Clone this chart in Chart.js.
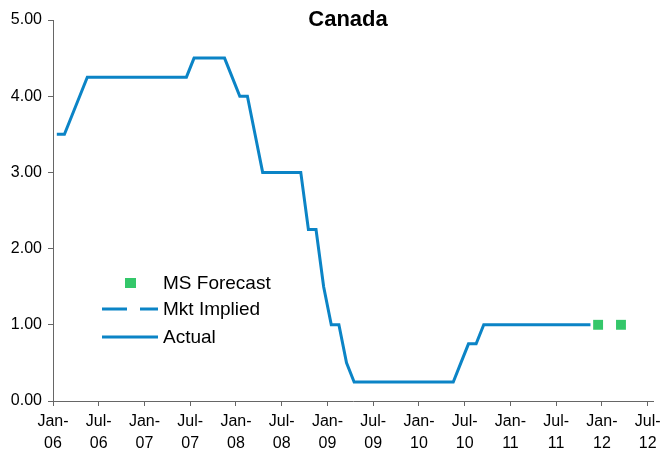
<!DOCTYPE html>
<html>
<head>
<meta charset="utf-8">
<title>Canada policy rate</title>
<script src="https://cdn.jsdelivr.net/npm/chart.js@4/dist/chart.umd.min.js"></script>
<style>
  html, body { margin: 0; padding: 0; background: #fff; }
  #wrap { width: 661px; height: 455px; }
</style>
</head>
<body>
<div id="wrap"><canvas id="rateChart" width="661" height="455"></canvas></div>
<script>
// ===== DATA =====
// overnight rate, one value per month starting Jan-06 (ends Nov-11)
const actual = [
  3.5, 3.5, 3.75, 4.0, 4.25, 4.25, 4.25, 4.25, 4.25, 4.25, 4.25, 4.25,
  4.25, 4.25, 4.25, 4.25, 4.25, 4.25, 4.5, 4.5, 4.5, 4.5, 4.5, 4.25,
  4.0, 4.0, 3.5, 3.0, 3.0, 3.0, 3.0, 3.0, 3.0, 2.25, 2.25, 1.5,
  1.0, 1.0, 0.5, 0.25, 0.25, 0.25, 0.25, 0.25, 0.25, 0.25, 0.25, 0.25,
  0.25, 0.25, 0.25, 0.25, 0.25, 0.5, 0.75, 0.75, 1.0, 1.0, 1.0, 1.0,
  1.0, 1.0, 1.0, 1.0, 1.0, 1.0, 1.0, 1.0, 1.0, 1.0, 1.0
];
// forecast months (offset from Jan-06) and values
const forecastMonths = [71, 74];
const forecastValues = [1.0, 1.0];
const mktImplied = [];

const tickLabels = [
  "Jan-06", "Jul-06", "Jan-07", "Jul-07", "Jan-08", "Jul-08", "Jan-09",
  "Jul-09", "Jan-10", "Jul-10", "Jan-11", "Jul-11", "Jan-12", "Jul-12"
];
const yTicks = [0, 1, 2, 3, 4, 5];

const BLUE = "#0b84c6";
const GREEN = "#34c76a";
const AXIS = "#666";
const FONT = "'Liberation Sans', Arial, sans-serif";

// month points are plotted mid-month
const actualPts = actual.map((v, i) => ({ x: i + 0.5, y: v }));
const forecastPts = forecastMonths.map((m, i) => ({ x: m + 0.5, y: forecastValues[i] }));

// ===== TITLE + LEGEND (drawn inside the plot) =====
const overlay = {
  id: "overlay",
  afterDraw(chart) {
    const ctx = chart.ctx;
    const ds = chart.data.datasets;
    ctx.save();
    ctx.fillStyle = "#000";
    ctx.textBaseline = "middle";
    ctx.textAlign = "center";
    ctx.font = "bold 22px " + FONT;
    ctx.fillText("Canada", 348, 20);

    ctx.textAlign = "left";
    ctx.font = "19px " + FONT;
    const rows = [
      { label: ds[0].label, y: 283, kind: "rect" },
      { label: ds[1].label, y: 309, kind: "dash" },
      { label: ds[2].label, y: 337, kind: "line" },
    ];
    rows.forEach((r) => {
      if (r.kind === "rect") {
        ctx.fillStyle = ds[0].backgroundColor;
        ctx.fillRect(125, r.y - 5, 11, 10);
      } else {
        ctx.strokeStyle = BLUE;
        ctx.lineWidth = 3;
        ctx.setLineDash(r.kind === "dash" ? [25, 13] : []);
        ctx.beginPath();
        ctx.moveTo(102, r.y);
        ctx.lineTo(158, r.y);
        ctx.stroke();
        ctx.setLineDash([]);
      }
      ctx.fillStyle = "#000";
      ctx.fillText(r.label, 163, r.y + 1);
    });
    ctx.restore();
  },
};

new Chart(document.getElementById("rateChart"), {
  type: "line",
  data: {
    datasets: [
      {
        label: "MS Forecast",
        data: forecastPts,
        showLine: false,
        pointStyle: "rect",
        pointRadius: 7,
        pointBorderWidth: 0,
        backgroundColor: GREEN,
        borderColor: GREEN,
        order: 0,
      },
      {
        label: "Mkt Implied",
        data: mktImplied,
        borderColor: BLUE,
        borderWidth: 3,
        borderDash: [25, 13],
        pointRadius: 0,
        order: 1,
      },
      {
        label: "Actual",
        data: actualPts,
        borderColor: BLUE,
        borderWidth: 3,
        pointRadius: 0,
        tension: 0,
        order: 2,
      },
    ],
  },
  options: {
    responsive: false,
    animation: false,
    layout: { padding: { top: 20, right: 8, bottom: 0, left: 0 } },
    plugins: {
      legend: { display: false },
      title: { display: false },
      tooltip: { enabled: false },
    },
    scales: {
      x: {
        type: "linear",
        min: 0,
        max: 78.7,
        afterBuildTicks: (s) => {
          s.ticks = tickLabels.map((_, i) => ({ value: i * 6 }));
        },
        afterFit: (s) => {
          s.height = 54;
          s.paddingLeft = 0;
          s.paddingRight = 0;
        },
        grid: { drawOnChartArea: false, drawTicks: true, tickLength: 5, color: AXIS },
        border: { color: AXIS, width: 1 },
        ticks: {
          autoSkip: false,
          maxRotation: 0,
          padding: 4,
          color: "#000",
          font: { family: FONT, size: 16, lineHeight: 1.4 },
          callback: (v) => {
            const lbl = tickLabels[Math.round(v / 6)];
            const parts = lbl.split("-");
            return [parts[0] + "-", parts[1]];
          },
        },
      },
      y: {
        min: 0,
        max: 5,
        afterBuildTicks: (s) => {
          s.ticks = yTicks.map((v) => ({ value: v }));
        },
        afterFit: (s) => {
          s.width = 53;
        },
        grid: { drawOnChartArea: false, drawTicks: true, tickLength: 5, color: AXIS },
        border: { color: AXIS, width: 1 },
        ticks: {
          padding: 6,
          color: "#000",
          font: { family: FONT, size: 16 },
          callback: (v) => v.toFixed(2),
        },
      },
    },
  },
  plugins: [overlay],
});
</script>
</body>
</html>
